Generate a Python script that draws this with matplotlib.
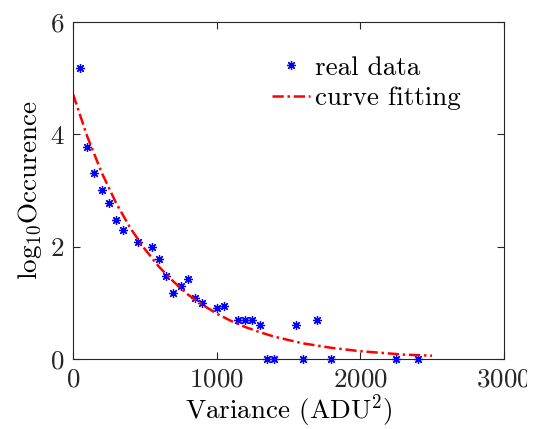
import matplotlib
matplotlib.use("Agg")
from matplotlib import pyplot as plt
from matplotlib.transforms import Bbox

plt.rcParams['font.family'] = 'serif'
plt.rcParams['font.serif'] = ['cmr10', 'DejaVu Serif']
plt.rcParams['mathtext.fontset'] = 'cm'
plt.rcParams['axes.formatter.use_mathtext'] = True

# measured points: variance vs log10 occurence
variance = [50, 100, 150, 200, 250, 300, 350, 450, 550, 600, 650, 700, 750, 800,
            850, 900, 1000, 1050, 1150, 1200, 1250, 1300, 1350, 1400, 1550, 1600,
            1700, 1800, 2250, 2400]
log_occ = [5.18, 3.78, 3.31, 3.00, 2.78, 2.47, 2.30, 2.08, 2.00, 1.78, 1.48, 1.18,
           1.30, 1.42, 1.08, 1.00, 0.90, 0.95, 0.70, 0.70, 0.70, 0.60, 0.0, 0.0,
           0.60, 0.0, 0.70, 0.0, 0.0, 0.0]

# fitted curve
fit_x = [0, 100, 200, 300, 400, 500, 600, 700, 800, 900, 1000, 1100, 1200, 1300,
         1400, 1500, 1600, 1700, 1800, 1900, 2000, 2100, 2200, 2300, 2400, 2500]
fit_y = [4.72, 3.96, 3.32, 2.78, 2.33, 1.96, 1.64, 1.38, 1.15, 0.97, 0.81, 0.68,
         0.57, 0.48, 0.40, 0.34, 0.28, 0.24, 0.20, 0.17, 0.14, 0.12, 0.10, 0.08,
         0.07, 0.06]

fig = plt.figure(figsize=(5.4, 4.29), dpi=100)
ax = fig.add_axes([0.135, 0.163, 0.798, 0.786])

ax.plot(variance, log_occ, linestyle='none', marker=(8, 2, 0), color='blue',
        markersize=6.5, markeredgewidth=0.9, label='real data', clip_on=False)
ax.plot(fit_x, fit_y, linestyle=(0, (4.5, 1.5, 1, 1.5)), color='red',
        linewidth=1.8, label='curve fitting')

ax.set_xlim(0, 3000)
ax.set_ylim(0, 6)
ax.set_xticks([0, 1000, 2000, 3000])
ax.set_yticks([0, 2, 4, 6])
ax.tick_params(direction='in', top=True, right=True, length=5, width=0.8,
               labelsize=19.5, colors='#262626', pad=6)
for s in ax.spines.values():
    s.set_color('#262626')
    s.set_linewidth(0.8)

ax.set_xlabel('Variance (ADU$^2$)', fontsize=19.5, labelpad=1)
ax.set_ylabel('log$_{10}$Occurence', fontsize=19.5, labelpad=4)

ax.legend(loc='upper left', bbox_to_anchor=(0.462, 0.90), frameon=False,
          fontsize=19.5, handlelength=1.4, handletextpad=0.2, labelspacing=0.24,
          borderpad=0, borderaxespad=0)

# the original picture is cut off just after the last tick label
fig.canvas.draw()
clip = Bbox([[0, 0], [527, 429]])
for lab in ax.get_xticklabels():
    lab.set_clip_box(clip)
    lab.set_clip_on(True)

plt.savefig('out.png', dpi=100)
